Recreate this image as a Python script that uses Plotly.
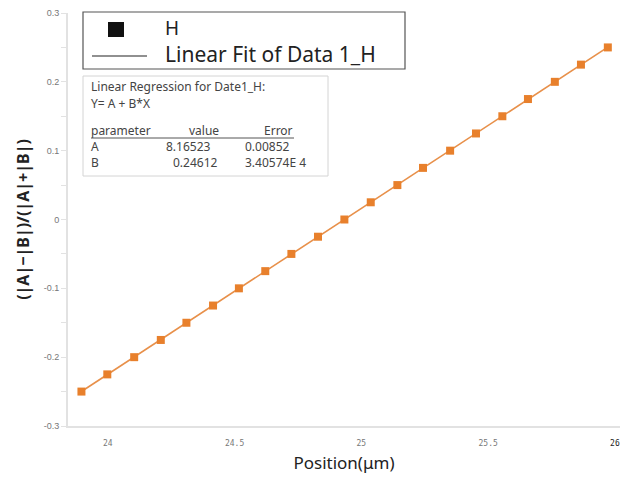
import numpy as np
import plotly.graph_objects as go

# ---- data ----
position_um = [23.896, 23.998, 24.104, 24.209, 24.310, 24.415, 24.517, 24.621, 24.724, 24.829,
               24.933, 25.037, 25.142, 25.243, 25.350, 25.452, 25.556, 25.657, 25.763, 25.866, 25.972]
ratio_H = [-0.25, -0.225, -0.2, -0.175, -0.15, -0.125, -0.1, -0.075, -0.05, -0.025,
           0.0, 0.025, 0.05, 0.075, 0.1, 0.125, 0.15, 0.175, 0.2, 0.225, 0.25]

x_tick_vals = [24, 24.5, 25, 25.5, 26]
x_tick_text = ["24", "24.5", "25", "25.5", "<span style='color:#222'>26</span>"]
y_tick_vals = [-0.3, -0.2, -0.1, 0, 0.1, 0.2, 0.3]
y_tick_text = ["-0.3", "-0.2", "-0.1", "0", "0.1", "0.2", "0.3"]

legend_names = ["H", "Linear Fit of Data 1_H"]
reg_title = ["Linear Regression for Date1_H:", "Y= A + B*X"]
reg_header = ["parameter", "value", "Error"]
reg_params = ["A", "B"]
reg_values = ["8.16523", "0.24612"]
reg_errors = ["0.00852", "3.40574E 4"]

# linear fit of the data
slope, intercept = np.polyfit(position_um, ratio_H, 1)
fit_x = [min(position_um), max(position_um)]
fit_y = [intercept + slope * v for v in fit_x]

ORANGE = "#E8802C"
W, H = 629, 477
L, R, T, B = 68, 9, 13, 51
PW, PH = W - L - R, H - T - B


def px(xp):
    return (xp - L) / PW


def py(yp):
    return (H - B - yp) / PH


fig = go.Figure()
fig.add_trace(go.Scatter(x=fit_x, y=fit_y, mode="lines", name=legend_names[1],
                         line=dict(color="#E8904A", width=1.6), showlegend=False))
fig.add_trace(go.Scatter(x=position_um, y=ratio_H, mode="markers", name=legend_names[0],
                         marker=dict(symbol="square", size=8, color=ORANGE), showlegend=False))

shapes = []
annotations = []

# legend box
shapes.append(dict(type="rect", xref="paper", yref="paper", x0=px(83), x1=px(405), y0=py(69), y1=py(12),
                   line=dict(color="#555", width=1.2), fillcolor="white", layer="above"))
shapes.append(dict(type="rect", xref="paper", yref="paper", x0=px(108), x1=px(124), y0=py(37), y1=py(22),
                   line=dict(width=0), fillcolor="#111", layer="above"))
shapes.append(dict(type="line", xref="paper", yref="paper", x0=px(92), x1=px(147), y0=py(56), y1=py(56),
                   line=dict(color="#222", width=1.2), layer="above"))
annotations.append(dict(xref="paper", yref="paper", x=px(163), y=py(28), text=legend_names[0],
                        showarrow=False, xanchor="left", yanchor="middle",
                        font=dict(family="Noto Sans", size=19, color="#222")))
annotations.append(dict(xref="paper", yref="paper", x=px(163), y=py(54), text=legend_names[1],
                        showarrow=False, xanchor="left", yanchor="middle",
                        font=dict(family="Noto Sans", size=21, color="#222")))

# regression box
shapes.append(dict(type="rect", xref="paper", yref="paper", x0=px(83), x1=px(328), y0=py(176), y1=py(76),
                   line=dict(color="#d4d4d4", width=1), fillcolor="white", layer="above"))
reg_font = dict(family="Noto Sans", size=12, color="#444")
annotations.append(dict(xref="paper", yref="paper", x=px(89), y=py(87), text=reg_title[0],
                        showarrow=False, xanchor="left", yanchor="middle", font=reg_font))
annotations.append(dict(xref="paper", yref="paper", x=px(89), y=py(103), text=reg_title[1],
                        showarrow=False, xanchor="left", yanchor="middle", font=reg_font))
annotations.append(dict(xref="paper", yref="paper", x=px(89), y=py(130), text=reg_header[0],
                        showarrow=False, xanchor="left", yanchor="middle", font=reg_font))
annotations.append(dict(xref="paper", yref="paper", x=px(221), y=py(130), text=reg_header[1],
                        showarrow=False, xanchor="right", yanchor="middle", font=reg_font))
annotations.append(dict(xref="paper", yref="paper", x=px(295), y=py(130), text=reg_header[2],
                        showarrow=False, xanchor="right", yanchor="middle", font=reg_font))
shapes.append(dict(type="line", xref="paper", yref="paper", x0=px(91), x1=px(294), y0=py(138), y1=py(138),
                   line=dict(color="#555", width=1), layer="above"))
row_y = [146, 162]
val_x = [164, 171]
for i in range(len(reg_params)):
    annotations.append(dict(xref="paper", yref="paper", x=px(89), y=py(row_y[i]), text=reg_params[i],
                            showarrow=False, xanchor="left", yanchor="middle", font=reg_font))
    annotations.append(dict(xref="paper", yref="paper", x=px(val_x[i]), y=py(row_y[i]), text=reg_values[i],
                            showarrow=False, xanchor="left", yanchor="middle", font=reg_font))
    annotations.append(dict(xref="paper", yref="paper", x=px(243), y=py(row_y[i]), text=reg_errors[i],
                            showarrow=False, xanchor="left", yanchor="middle", font=reg_font))

fig.update_layout(
    width=W, height=H,
    margin=dict(l=L, r=R, t=T, b=B, autoexpand=False),
    paper_bgcolor="white", plot_bgcolor="white",
    shapes=shapes, annotations=annotations,
    xaxis=dict(range=[23.843, 26.02], tickvals=x_tick_vals, ticktext=x_tick_text,
               showgrid=False, zeroline=False, showline=True, linecolor="#e2e2e2", linewidth=2,
               ticks="", ticklabelstandoff=8, automargin=False, ticklabeloverflow="allow",
               tickfont=dict(family="DejaVu Sans Mono", size=8, color="#777"),
               title=dict(text="Position(μm)", standoff=11,
                          font=dict(family="Noto Sans", size=17, color="#222"))),
    yaxis=dict(range=[-0.3, 0.3], tickvals=y_tick_vals, ticktext=y_tick_text,
               showgrid=False, zeroline=False, showline=True, linecolor="#e2e2e2", linewidth=2,
               ticks="outside", ticklen=5, tickcolor="#e2e2e2", tickwidth=1, automargin=False,
               ticklabeloverflow="allow",
               minor=dict(dtick=0.05, tick0=0, ticks="outside", ticklen=5, tickcolor="#e2e2e2", tickwidth=1),
               tickfont=dict(family="Liberation Sans", size=9, color="#777"),
               title=dict(text="<b>(|A|−|B|)/(|A|+|B|)</b>", standoff=10,
                          font=dict(family="Noto Sans", size=16, color="#222"))),
)

fig.write_html("out.html", config={"displayModeBar": False},
               post_script="document.body.style.margin='0';document.body.style.overflow='hidden';")
